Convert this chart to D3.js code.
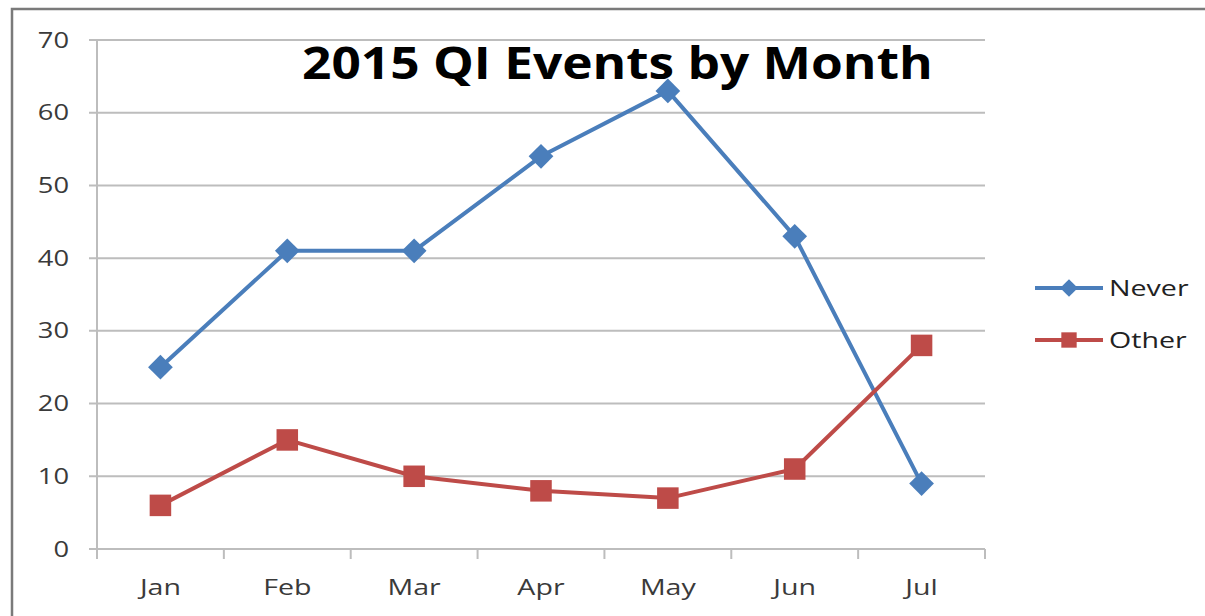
<!DOCTYPE html>
<html>
<head>
<meta charset="utf-8">
<script src="https://cdn.jsdelivr.net/npm/d3@7"></script>
<style>
  body { margin: 0; background: #fff; }
  svg { display: block; font-family: "Open Sans", Lato, sans-serif; }
</style>
</head>
<body>
<script>
// chart data
var months = ['Jan', 'Feb', 'Mar', 'Apr', 'May', 'Jun', 'Jul'];
var neverValues = [25, 41, 41, 54, 63, 43, 9];
var otherValues = [6, 15, 10, 8, 7, 11, 28];
var yTicks = [0, 10, 20, 30, 40, 50, 60, 70];
var seriesNames = ['Never', 'Other'];

var W = 1205, H = 616;
var margin = { top: 40, right: 220, bottom: 67, left: 97 },
    width = W - margin.left - margin.right,
    height = H - margin.top - margin.bottom;

// the original picture is stretched sideways, so is the text
var stretch = 1.3;

var svg = d3.select('body').append('svg')
    .attr('width', W)
    .attr('height', H);

function label(parent, tx, ty, str, size, anchor, sx) {
    return parent.append('text')
        .attr('transform', 'translate(' + tx + ',' + ty + ') scale(' + sx + ',1)')
        .attr('dy', '0.36em')
        .attr('text-anchor', anchor)
        .attr('font-size', size)
        .attr('font-weight', 500)
        .attr('fill', '#3a3a3a')
        .text(str);
}

// frame
svg.append('path')
    .attr('d', 'M12,' + H + ' V9 H' + W)
    .attr('fill', 'none')
    .attr('stroke', '#7a7a7a')
    .attr('stroke-width', 2.5);

var g = svg.append('g')
    .attr('transform', 'translate(' + margin.left + ',' + margin.top + ')');

var x = d3.scaleBand().domain(months).range([0, width]);
var y = d3.scaleLinear().domain([0, 70]).range([height, 0]);

// gridlines + y ticks
g.selectAll('.grid').data(yTicks).enter().append('line')
    .attr('x1', -8).attr('x2', width)
    .attr('y1', function (d) { return y(d); })
    .attr('y2', function (d) { return y(d); })
    .attr('stroke', '#bdbdbd').attr('stroke-width', 2);

yTicks.forEach(function (d) {
    label(g, -28, y(d), d, 21, 'end', stretch);
});

// y axis line
g.append('line')
    .attr('x1', 0).attr('x2', 0)
    .attr('y1', 0).attr('y2', height + 10)
    .attr('stroke', '#bdbdbd').attr('stroke-width', 2);

// x ticks between categories
var bounds = months.map(function (m) { return x(m) + x.bandwidth(); });
g.selectAll('.xtick').data(bounds).enter().append('line')
    .attr('x1', function (d) { return d; })
    .attr('x2', function (d) { return d; })
    .attr('y1', height).attr('y2', height + 10)
    .attr('stroke', '#bdbdbd').attr('stroke-width', 2);

months.forEach(function (m) {
    label(g, x(m) + x.bandwidth() / 2, height + 38, m, 22, 'middle', stretch);
});

var line = d3.line()
    .x(function (d, i) { return x(months[i]) + x.bandwidth() / 2; })
    .y(function (d) { return y(d); });

var colors = ['#4a7ebb', '#be4b48'];
var diamond = d3.symbol().type(d3.symbolDiamond2).size(390);
var square = d3.symbol().type(d3.symbolSquare2).size(590);

[neverValues, otherValues].forEach(function (vals, k) {
    g.append('path')
        .datum(vals)
        .attr('d', line)
        .attr('fill', 'none')
        .attr('stroke', colors[k])
        .attr('stroke-width', 4)
        .attr('stroke-linejoin', 'round');
    g.selectAll('.m' + k).data(vals).enter().append('path')
        .attr('transform', function (d, i) {
            return 'translate(' + (x(months[i]) + x.bandwidth() / 2) + ',' + y(d) + ')';
        })
        .attr('d', k === 0 ? diamond : square)
        .attr('fill', colors[k]);
});

// title
var title = svg.append('text')
    .attr('font-size', 44)
    .attr('font-weight', 'bold')
    .attr('fill', '#000')
    .text('2015 QI Events by Month');
var tl = title.node().getComputedTextLength();
title.attr('transform', 'translate(302,79) scale(' + (631 / tl) + ',1)');

// legend
var legY = [288, 340];
seriesNames.forEach(function (name, k) {
    var lg = svg.append('g').attr('transform', 'translate(0,' + legY[k] + ')');
    lg.append('line')
        .attr('x1', 1035).attr('x2', 1103)
        .attr('y1', 0).attr('y2', 0)
        .attr('stroke', colors[k]).attr('stroke-width', 4);
    lg.append('path')
        .attr('transform', 'translate(1069,0)')
        .attr('d', k === 0 ? d3.symbol().type(d3.symbolDiamond2).size(200)
                           : d3.symbol().type(d3.symbolSquare2).size(300))
        .attr('fill', colors[k]);
    label(lg, 1109, 0, name, 22, 'start', stretch).attr('fill', '#222');
});
</script>
</body>
</html>
